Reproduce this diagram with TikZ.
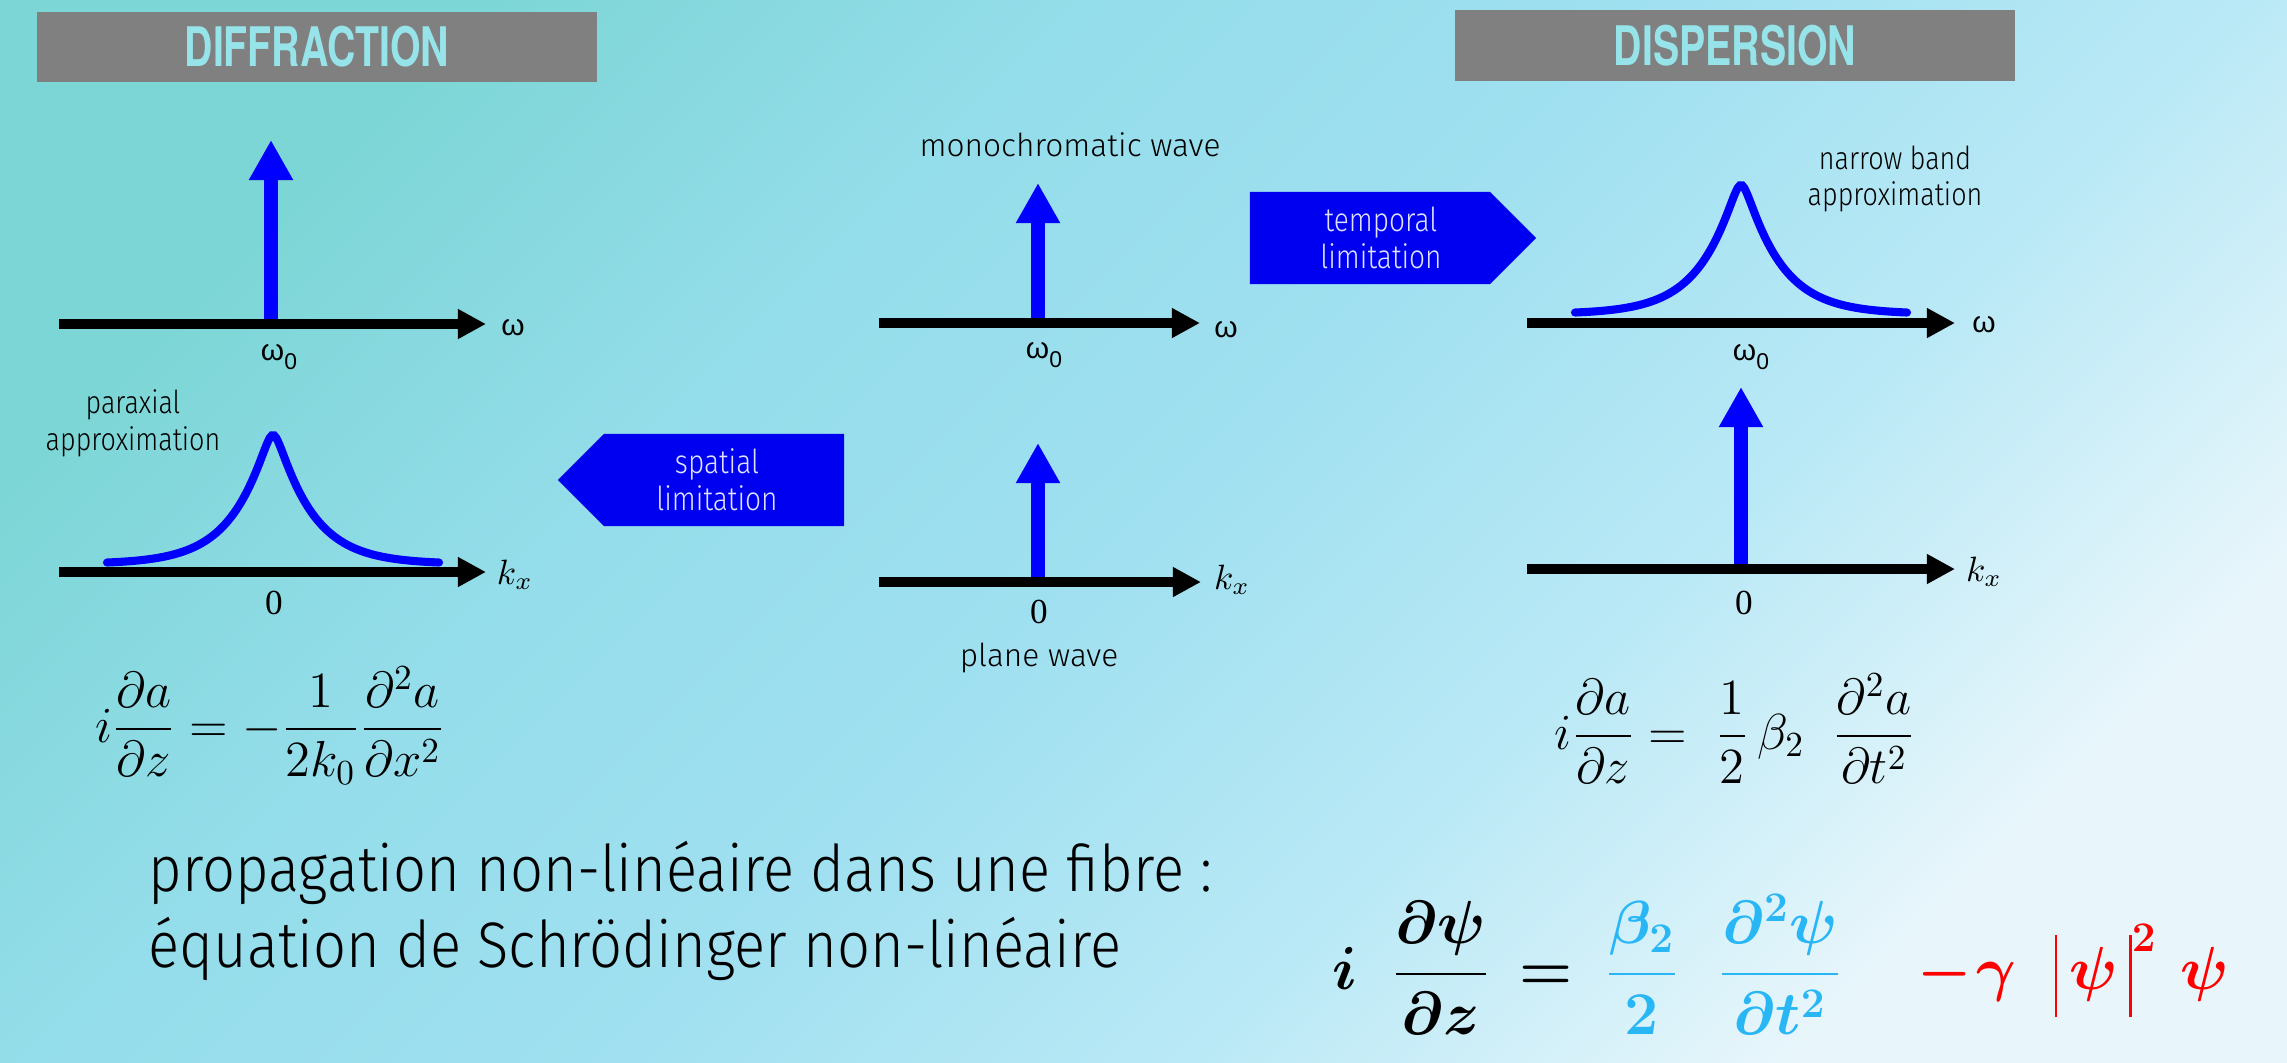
\documentclass[tikz,border=0pt]{standalone}
\usepackage{amsmath}
\usepackage{bm}
\usepackage[no-math]{fontspec}
\setmainfont{Liberation Serif}
\newfontfamily\titlefont[FakeStretch=0.72]{TeX Gyre Heros}
\newfontfamily\thinfont{Fira Sans Light}
\newfontfamily\thinnarrow[FakeStretch=0.85]{Fira Sans Light}
\newfontfamily\bodyfont[FakeStretch=0.9]{Fira Sans Light}
\newfontfamily\greekfont{Liberation Sans}
\usepackage{xcolor}
\usetikzlibrary{arrows.meta,shapes.symbols,positioning}
\definecolor{bgtl}{RGB}{125,214,214}
\definecolor{bghigh}{RGB}{148,221,234}
\definecolor{bgmid}{RGB}{160,224,240}
\definecolor{bglow}{RGB}{186,233,246}
\definecolor{bgbr}{RGB}{232,246,251}
\definecolor{titlegray}{RGB}{128,128,128}
\definecolor{titletext}{RGB}{150,228,234}
\definecolor{pulseblue}{RGB}{0,0,255}
\definecolor{tagblue}{RGB}{0,0,240}
\definecolor{tagtext}{RGB}{222,226,255}
\definecolor{eqblue}{RGB}{40,182,245}
\definecolor{eqred}{RGB}{255,0,0}
\pgfdeclareverticalshading{slidebg}{100bp}{color(0bp)=(bgbr); color(25bp)=(bgbr); color(37.5bp)=(bglow); color(50bp)=(bgmid); color(62.5bp)=(bghigh); color(75bp)=(bgtl); color(100bp)=(bgtl)}
\newcommand{\modbar}{\rule[-0.43em]{0.8pt}{1.26em}}

\begin{document}
\begin{tikzpicture}[x=0.01cm, y=-0.01cm,
  axisline/.style={line width=2.6pt, -{Triangle[length=8pt, width=8pt]}},
  spike/.style={pulseblue, line width=3.9pt, -{Triangle[length=11.4pt, width=11.8pt]}},
  pulse/.style={pulseblue, line width=2.3pt, line cap=round},
  titlebar/.style={fill=titlegray, minimum width=5.6cm, minimum height=0.7cm, inner sep=0pt, text=titletext, font=\titlefont\bfseries\fontsize{15.5}{16}\selectfont},
  limtag/.style={signal, fill=tagblue, text=tagtext, align=center, minimum width=2.86cm, minimum height=0.92cm, signal pointer angle=90, inner sep=0pt, font=\thinnarrow\fontsize{9.4}{10.5}\selectfont},
  lbl/.style={align=center, inner sep=0pt, font=\thinfont\fontsize{9}{10.5}\selectfont},
  narrowlbl/.style={align=center, inner sep=0pt, font=\thinnarrow\fontsize{9}{10.5}\selectfont},
  axlbl/.style={inner sep=0pt, font=\fontsize{10}{12}\selectfont},
  omlbl/.style={inner sep=0pt, font=\greekfont\fontsize{8.5}{10}\selectfont},
  smalleq/.style={inner sep=0pt, anchor=base, font=\fontsize{14.5}{17}\selectfont},
  bigeq/.style={inner sep=0pt, anchor=base, font=\fontsize{18.5}{22}\selectfont\boldmath}]

\shade[shading=slidebg, shading angle=45] (0,0) rectangle (2287,1062);
\useasboundingbox (0,0) rectangle (2287,1062);

\node[titlebar] (diffraction) at (317,47) {DIFFRACTION};
\node[titlebar] (dispersion) at (1735,45.5) {DISPERSION};

\draw[spike] (271,324) -- (271,140);
\draw[axisline] (59,324) -- (486,324);
\node[omlbl] (omegaA) at (513,328) {ω};
\node[omlbl] (omegaA0) at (279,357) {ω\raisebox{-0.55ex}{\fontsize{6.5}{7}\selectfont 0}};

\draw[spike] (1038,323) -- (1038,183);
\draw[axisline] (879,323) -- (1200,323);
\node[omlbl] (omegaB) at (1226,330) {ω};
\node[omlbl] (omegaB0) at (1044,355) {ω\raisebox{-0.55ex}{\fontsize{6.5}{7}\selectfont 0}};
\node[lbl] (mono) at (1070,145) {monochromatic wave};

\draw[pulse] plot[domain=-16.6:16.6, samples=160] ({1741+10*\x}, {314-129*exp(-0.2778*(sqrt(\x*\x+0.36)-0.6))});
\draw[axisline] (1527,323) -- (1955,323);
\node[omlbl] (omegaC) at (1984,325) {ω};
\node[omlbl] (omegaC0) at (1751,357) {ω\raisebox{-0.55ex}{\fontsize{6.5}{7}\selectfont 0}};
\node[narrowlbl] (narrow) at (1895,179) {narrow band\\approximation};

\draw[pulse] plot[domain=-16.6:16.6, samples=160] ({273+10*\x}, {564-129*exp(-0.2778*(sqrt(\x*\x+0.36)-0.6))});
\draw[axisline] (59,572) -- (486,572);
\node[axlbl] (kxD) at (515,575) {$k_x$};
\node[axlbl] (zeroD) at (274,603) {0};
\node[narrowlbl] (paraxial) at (133,423) {paraxial\\approximation};

\draw[spike] (1038,582) -- (1038,443);
\draw[axisline] (879,582) -- (1201,582);
\node[axlbl] (kxE) at (1232,580) {$k_x$};
\node[axlbl] (zeroE) at (1039,612) {0};
\node[lbl] (plane) at (1039,658) {plane wave};

\draw[spike] (1741,569) -- (1741,387);
\draw[axisline] (1527,569) -- (1955,569);
\node[axlbl] (kxF) at (1984,572) {$k_x$};
\node[axlbl] (zeroF) at (1744,603) {0};

\node[limtag, signal to=east] (temporal) at (1370,238) {\hspace*{0.22cm}temporal\\\hspace*{0.22cm}limitation};
\node[limtag, signal to=west] (spatial) at (724,480) {spatial\hspace*{0.14cm}\\limitation\hspace*{0.14cm}};

\node[smalleq, font=\fontsize{14}{17}\selectfont] (diffeq) at (270,742) {$i\dfrac{\partial a}{\partial z}=-\dfrac{1}{2k_0}\dfrac{\partial^2 a}{\partial x^2}$};
\node[smalleq] (dispeq) at (1735,749) {$i\dfrac{\partial a}{\partial z}=\;\dfrac{1}{2}\,\beta_2\;\;\dfrac{\partial^2 a}{\partial t^2}$};

\node[anchor=base west, align=left, inner sep=0pt, font=\bodyfont\fontsize{18.3}{21.6}\selectfont] (nlse) at (148,967) {propagation non-linéaire dans une fibre :\\équation de Schrödinger non-linéaire};

\node[bigeq] (iunit) at (1345,989) {$i$};
\node[bigeq] (dpsidz) at (1441,989) {$\dfrac{\partial\psi}{\partial z}$};
\node[bigeq] (equals) at (1546,989) {$=$};
\node[bigeq, text=eqblue] (beta) at (1642,989) {$\dfrac{\beta_2}{2}$};
\node[bigeq, text=eqblue] (dtt) at (1780,989) {$\dfrac{\partial^2\psi}{\partial t^2}$};
\node[bigeq, text=eqred] (minus) at (1945,989) {$-$};
\node[bigeq, text=eqred] (gamma) at (1996,989) {$\gamma$};
\node[bigeq, text=eqred] (modpsi) at (2106,989) {$\modbar\,\psi\,\modbar^{2}$};
\node[bigeq, text=eqred] (psi) at (2205,989) {$\psi$};
\end{tikzpicture}
\end{document}
